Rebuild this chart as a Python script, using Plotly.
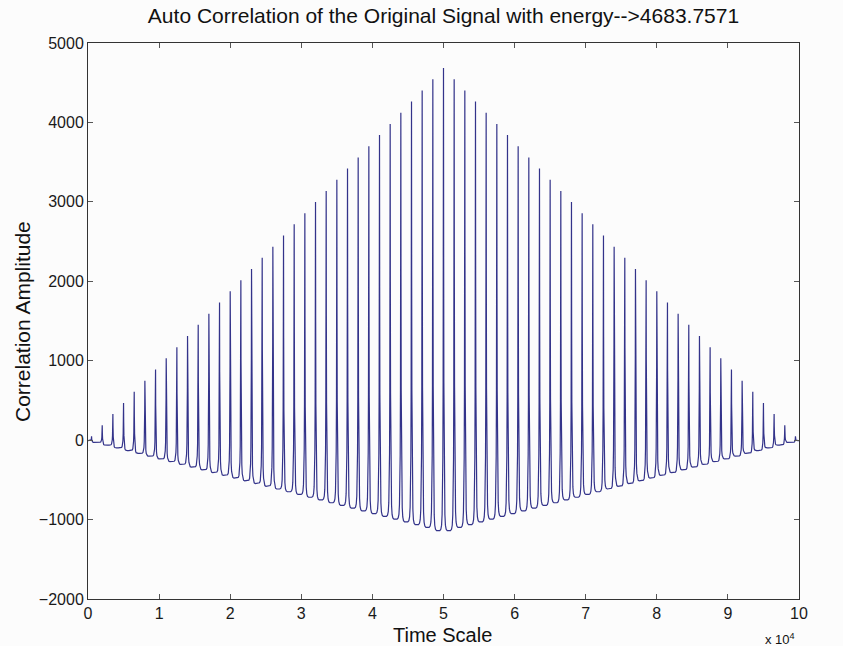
import plotly.graph_objects as go

# ---------------- data ----------------
# lag positions of the correlation peaks (samples)
peak_lags = [500, 2000, 3500, 5000, 6500, 8000, 9500, 11000, 12500, 14000,
             15500, 17000, 18500, 20000, 21500, 23000, 24500, 26000, 27500, 29000,
             30500, 32000, 33500, 35000, 36500, 38000, 39500, 41000, 42500, 44000,
             45500, 47000, 48500, 50000, 51500, 53000, 54500, 56000, 57500, 59000,
             60500, 62000, 63500, 65000, 66500, 68000, 69500, 71000, 72500, 74000,
             75500, 77000, 78500, 80000, 81500, 83000, 84500, 86000, 87500, 89000,
             90500, 92000, 93500, 95000, 96500, 98000, 99500]

# peak heights (correlation amplitude)
peak_heights = [47, 187, 328, 468, 609, 749, 890, 1030, 1171, 1311,
                1452, 1592, 1733, 1873, 2014, 2154, 2295, 2435, 2576, 2717,
                2857, 2998, 3138, 3279, 3419, 3560, 3700, 3841, 3981, 4122,
                4262, 4403, 4543, 4683.7571, 4543, 4403, 4262, 4122, 3981, 3841,
                3700, 3560, 3419, 3279, 3138, 2998, 2857, 2717, 2576, 2435,
                2295, 2154, 2014, 1873, 1733, 1592, 1452, 1311, 1171, 1030,
                890, 749, 609, 468, 328, 187, 47]

# trough levels: start edge, between consecutive peaks, end edge
trough_levels = [-5,
                 -29, -63, -98, -132, -167, -201, -236, -270, -305, -339,
                 -374, -408, -443, -477, -512, -546, -581, -615, -650, -684,
                 -719, -753, -788, -822, -857, -891, -926, -960, -995, -1029,
                 -1064, -1098, -1140,
                 -1140, -1098, -1064, -1029, -995, -960, -926, -891, -857, -822,
                 -788, -753, -719, -684, -650, -615, -581, -546, -512, -477,
                 -443, -408, -374, -339, -305, -270, -236, -201, -167, -132,
                 -98, -63, -29,
                 -5]

lag_start, lag_end = 0, 100000

# spike profile: fraction of half-gap vs. fraction of height above trough
profile_offset = [0.0, 0.03, 0.07, 0.12, 0.18, 0.26, 0.36, 0.50, 0.70, 1.0]
profile_level = [1.0, 0.60, 0.32, 0.16, 0.08, 0.035, 0.012, 0.003, 0.0, 0.0]

x_ticks = [0, 10000, 20000, 30000, 40000, 50000, 60000, 70000, 80000, 90000, 100000]
x_tick_text = ["0", "1", "2", "3", "4", "5", "6", "7", "8", "9", "10"]
y_ticks = [-2000, -1000, 0, 1000, 2000, 3000, 4000, 5000]

# ---------------- build the trace from the values ----------------
xs, ys = [], []


def rise(x_from, x_peak, h, trough):
    half = x_peak - x_from
    for o, f in zip(reversed(profile_offset), reversed(profile_level)):
        xs.append(x_peak - o * half)
        ys.append(trough + (h - trough) * f)


def fall(x_peak, x_to, h, trough):
    half = x_to - x_peak
    for o, f in zip(profile_offset[1:], profile_level[1:]):
        xs.append(x_peak + o * half)
        ys.append(trough + (h - trough) * f)


n = len(peak_lags)
rise(lag_start, peak_lags[0], peak_heights[0], trough_levels[0])
for i in range(n):
    if i > 0:
        mid = (peak_lags[i - 1] + peak_lags[i]) / 2
        rise(mid, peak_lags[i], peak_heights[i], trough_levels[i])
    if i < n - 1:
        mid = (peak_lags[i] + peak_lags[i + 1]) / 2
        fall(peak_lags[i], mid, peak_heights[i], trough_levels[i + 1])
fall(peak_lags[-1], lag_end, peak_heights[-1], trough_levels[-1])

fig = go.Figure()
fig.add_trace(go.Scatter(x=xs, y=ys, mode="lines",
                         line=dict(color="#33338a", width=1.2),
                         hoverinfo="skip", showlegend=False))

font_family = "Liberation Sans, Arial, sans-serif"

fig.update_layout(
    width=843, height=646,
    margin=dict(l=88, r=44, t=43, b=47),
    paper_bgcolor="#fcfcfc",
    plot_bgcolor="#fcfcfc",
    font=dict(family=font_family, size=16, color="#1a1a1a"),
    title=dict(text="Auto Correlation of the Original Signal with energy-->4683.7571",
               x=0.5, xanchor="center", xref="paper",
               y=1 - 16 / 646, yanchor="middle", yref="container",
               font=dict(size=21, family=font_family, color="#111")),
    showlegend=False,
)

axis_common = dict(showline=True, linecolor="#333", linewidth=1, mirror="ticks",
                   ticks="inside", ticklen=5, tickcolor="#555",
                   showgrid=False, zeroline=False)

fig.update_xaxes(range=[lag_start, lag_end], tickvals=x_ticks, ticktext=x_tick_text,
                 **axis_common)
fig.update_yaxes(range=[-2000, 5000], tickvals=y_ticks, **axis_common)

fig.add_annotation(text="Time Scale", xref="paper", yref="paper",
                   x=(442 - 88) / 711, y=(599 - 635) / 556, xanchor="center", yanchor="middle",
                   showarrow=False, font=dict(size=20, family=font_family, color="#111"))
fig.add_annotation(text="Correlation Amplitude", xref="paper", yref="paper",
                   x=(22 - 88) / 711, y=(599 - 322) / 556, xanchor="center", yanchor="middle",
                   textangle=-90, showarrow=False,
                   font=dict(size=21, family=font_family, color="#111"))
fig.add_annotation(text="x 10<sup>4</sup>", xref="paper", yref="paper",
                   x=(780 - 88) / 711, y=(599 - 639) / 556, xanchor="center", yanchor="middle",
                   showarrow=False, font=dict(size=13, family=font_family, color="#111"))

fig.write_html("out.html")
